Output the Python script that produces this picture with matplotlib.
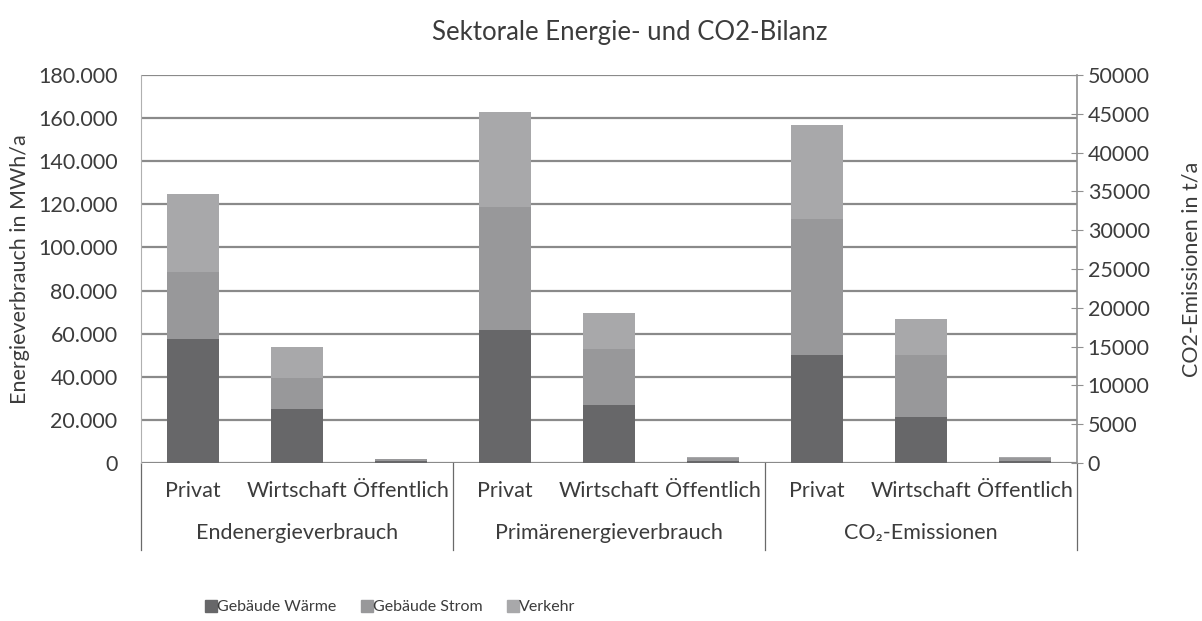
import matplotlib
matplotlib.use("Agg")
import matplotlib.pyplot as plt
import matplotlib.transforms as mtransforms
from matplotlib.lines import Line2D
import numpy as np

plt.rcParams['font.family'] = ['Lato', 'DejaVu Sans']

# ---------------- data ----------------
groups = ["Endenergieverbrauch", "Primärenergieverbrauch", "CO₂-Emissionen"]
sectors = ["Privat", "Wirtschaft", "Öffentlich"]
series = ["Gebäude Wärme", "Gebäude Strom", "Verkehr"]

# Endenergie (MWh/a)
end_waerme = [57500, 25000, 900]
end_strom = [31000, 14300, 800]
end_verkehr = [36500, 14700, 300]
# Primärenergie (MWh/a)
prim_waerme = [61700, 27000, 950]
prim_strom = [57200, 26000, 1450]
prim_verkehr = [44100, 16400, 320]
# CO2 (t/a) - right axis
co2_waerme = [13900, 5950, 220]
co2_strom = [17600, 7950, 450]
co2_verkehr = [12100, 4600, 100]

left_ticks = list(range(0, 180001, 20000))
left_ticklabels = ["0", "20.000", "40.000", "60.000", "80.000", "100.000",
                   "120.000", "140.000", "160.000", "180.000"]
right_ticks = list(range(0, 50001, 5000))

colors = ["#676769", "#98989a", "#a8a8aa"]
text_col = "#3c3c3c"
fs = 15.5

fig = plt.figure(figsize=(12.02, 6.21), dpi=100)
ax = fig.add_axes([0.1175, 0.2544, 0.7782, 0.6248])
ax2 = ax.twinx()

x_energy = np.arange(6)
x_co2 = np.arange(6, 9)
w = 0.5

e_w = np.array(end_waerme + prim_waerme)
e_s = np.array(end_strom + prim_strom)
e_v = np.array(end_verkehr + prim_verkehr)
ax.bar(x_energy, e_w, w, color=colors[0], zorder=3)
ax.bar(x_energy, e_s, w, bottom=e_w, color=colors[1], zorder=3)
ax.bar(x_energy, e_v, w, bottom=e_w + e_s, color=colors[2], zorder=3)

c_w = np.array(co2_waerme)
c_s = np.array(co2_strom)
c_v = np.array(co2_verkehr)
ax2.bar(x_co2, c_w, w, color=colors[0], zorder=3)
ax2.bar(x_co2, c_s, w, bottom=c_w, color=colors[1], zorder=3)
ax2.bar(x_co2, c_v, w, bottom=c_w + c_s, color=colors[2], zorder=3)

ax.set_xlim(-0.5, 8.5)
ax.set_ylim(0, 180000)
ax2.set_ylim(0, 50000)

ax.set_yticks(left_ticks)
ax.set_yticklabels(left_ticklabels)
ax2.set_yticks(right_ticks)
ax2.set_yticklabels([str(v) for v in right_ticks])

ax.yaxis.grid(True, color="#8a8a8a", lw=1.6, zorder=0)
ax.set_axisbelow(True)
ax.set_xticks([])

for a in (ax, ax2):
    a.spines['top'].set_visible(False)
    a.spines['bottom'].set_visible(False)
ax.spines['left'].set_color("#b0b0b0")
ax.spines['right'].set_visible(False)
ax2.spines['left'].set_visible(False)
ax2.spines['right'].set_color("#909090")
ax2.spines['right'].set_linewidth(1.2)

ax.tick_params(axis='y', length=0, pad=17, labelsize=fs, labelcolor=text_col)
ax2.tick_params(axis='y', direction='inout', length=8, color="#909090",
                pad=4, labelsize=fs, labelcolor=text_col)

ax.set_ylabel("Energieverbrauch in MWh/a", fontsize=fs, color=text_col, labelpad=6)
ax2.set_ylabel("CO2-Emissionen in t/a", fontsize=fs, color=text_col, labelpad=23)

# multi-level category axis
trans = mtransforms.blended_transform_factory(ax.transData, ax.transAxes)
for gi, g in enumerate(groups):
    for si, s in enumerate(sectors):
        xi = gi * 3 + si
        ax.text(xi, -0.072, s, transform=trans, ha='center', va='center',
                fontsize=fs, color=text_col)
    ax.text(gi * 3 + 1, -0.18, g, transform=trans, ha='center', va='center',
            fontsize=fs, color=text_col)
for xs in [-0.5, 2.5, 5.5, 8.5]:
    ax.add_line(Line2D([xs, xs], [0, -0.225], transform=trans, color="#6a6a6a",
                       lw=0.9, clip_on=False))

fig.suptitle("Sektorale Energie- und CO2-Bilanz", x=0.524, y=0.967,
             fontsize=18.5, color=text_col)

handles = [Line2D([], [], marker='s', ls='none', markersize=8, color=c) for c in colors]
fig.legend(handles, series, loc='center left', bbox_to_anchor=(0.158, 0.022),
           ncol=3, frameon=False, fontsize=11.5, handletextpad=0.0,
           columnspacing=1.5, labelcolor=text_col, handlelength=0.8)

fig.savefig("out.png", dpi=100)
